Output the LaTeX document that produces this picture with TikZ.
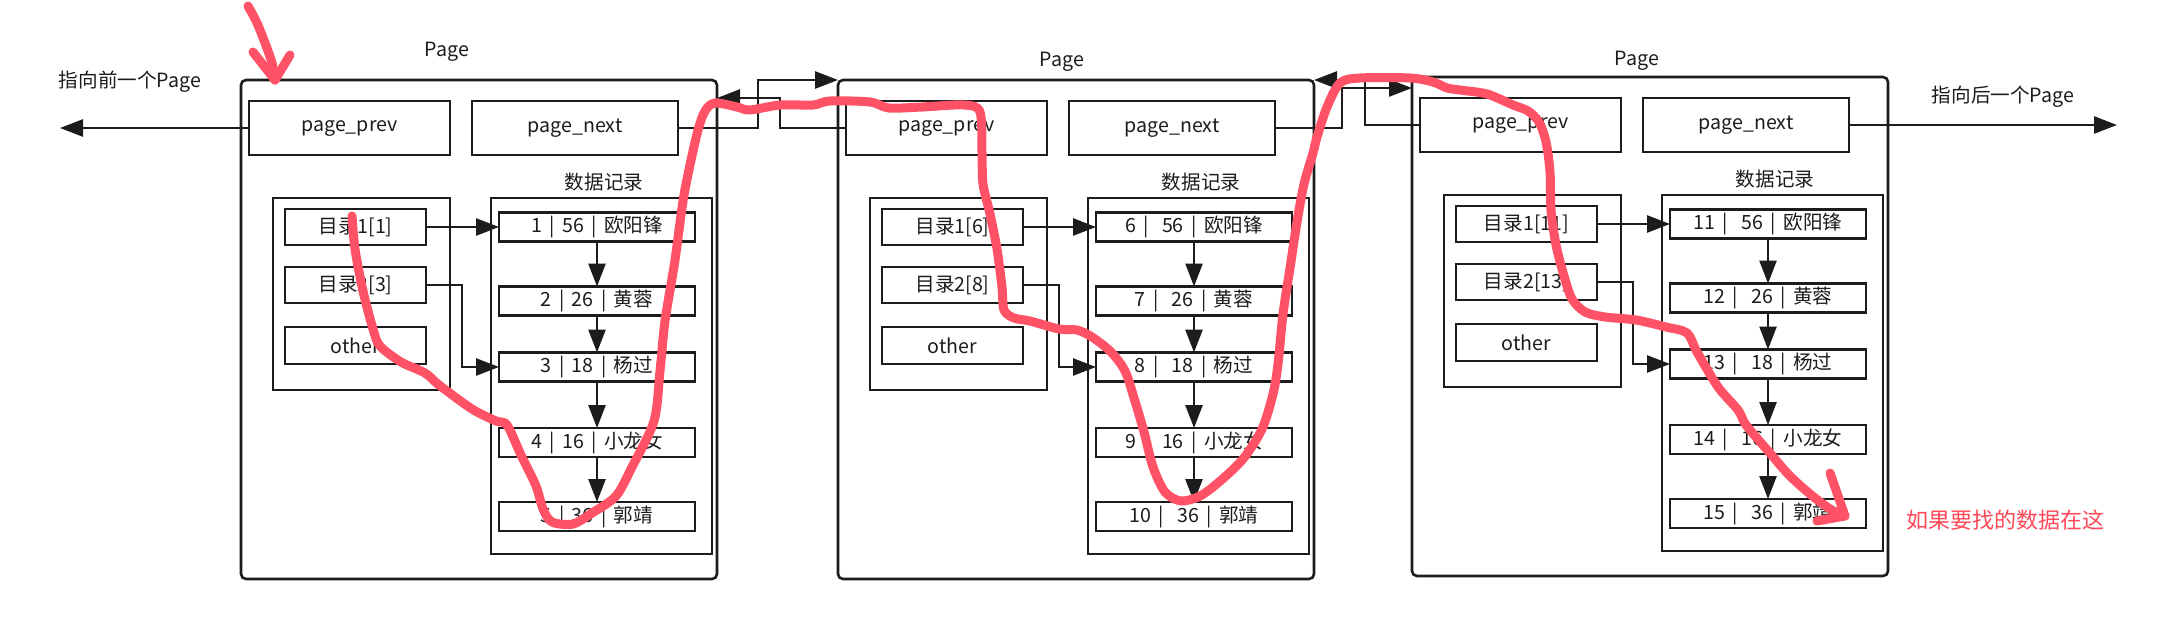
\documentclass[tikz,border=0pt]{standalone}
\usepackage{fontspec}
\newfontfamily\cjk{Noto Sans CJK SC}
\usetikzlibrary{arrows.meta,calc}
\definecolor{mark}{RGB}{255,82,102}
\definecolor{marktext}{RGB}{255,72,88}
\definecolor{ink}{RGB}{28,28,28}
\tikzset{
  every node/.style={font=\cjk\fontsize{9.8}{11}\selectfont, inner sep=0pt, outer sep=0pt, text=ink},
  boxline/.style={draw=ink, line width=1.3pt},
  pagebox/.style={boxline, rounded corners=2.5pt},
  cell/.style={boxline},
  arr/.style={draw=ink, line width=1.3pt, -{Triangle[length=11.5pt,width=8.5pt]}},
  redpen/.style={draw=mark, line width=4.5pt, line cap=round, line join=round},
}
\newcommand{\barsep}{\hspace{0.38em}|\hspace{0.38em}}
\newcommand{\drawpage}[7]{%
\begin{scope}[shift={(#2,#3)}]
  \node[pagebox, minimum width=238pt, minimum height=249.5pt] (#1box) at (238,249.5) {};
  \node[cell, minimum width=100.5pt, minimum height=27pt] (#1prev) at (108.5,48) {page\_prev};
  \node[cell, minimum width=103pt, minimum height=27pt] (#1next) at (334,48) {page\_next};
  \node[cell, minimum width=88.5pt, minimum height=96pt] (#1dir) at (120.5,214) {};
  \node[cell, minimum width=70.5pt, minimum height=18pt] (#1d1) at (114.5,147) {目录1[#5]};
  \node[cell, minimum width=70.5pt, minimum height=18pt] (#1d2) at (114.5,205) {目录2[#6]};
  \node[cell, minimum width=70.5pt, minimum height=18.5pt] (#1oth) at (114.5,265.5) {other};
  \node (#1title) at (363,102) {数据记录};
  \node[cell, minimum width=110.5pt, minimum height=178pt] (#1data) at (360.5,296) {};
  \node[cell, minimum width=98pt, minimum height=14.5pt] (#1r1) at (356,147) {#4\barsep\hspace{#7}56\barsep 欧阳锋};
  \node[cell, minimum width=98pt, minimum height=14.5pt] (#1r2) at (356,221) {\the\numexpr#4+1\relax\barsep\hspace{#7}26\barsep 黄蓉};
  \node[cell, minimum width=98pt, minimum height=14.5pt] (#1r3) at (356,287) {\the\numexpr#4+2\relax\barsep\hspace{#7}18\barsep 杨过};
  \node[cell, minimum width=98pt, minimum height=14.5pt] (#1r4) at (356,362.5) {\the\numexpr#4+3\relax\barsep\hspace{#7}16\barsep 小龙女};
  \node[cell, minimum width=98pt, minimum height=14.5pt] (#1r5) at (356,436.5) {\the\numexpr#4+4\relax\barsep\hspace{#7}36\barsep 郭靖};
  \draw[arr] (#1d1.east) -- (#1r1.west);
  \draw[arr] (#1d2.east) -- ++(36,0) |- (#1r3.west);
  \draw[arr] (#1r1) -- (#1r2);
  \draw[arr] (#1r2) -- (#1r3);
  \draw[arr] (#1r3) -- (#1r4);
  \draw[arr] (#1r4) -- (#1r5);
\end{scope}}

\begin{document}
\begin{tikzpicture}[x=0.5pt,y=-0.5pt]
  \useasboundingbox (0,0) rectangle (2182,642);
  \fill[white] (0,0) rectangle (2182,642);

  \drawpage{pa}{241}{80}{1}{1}{3}{0pt}
  \drawpage{pb}{838}{80}{6}{6}{8}{0.3em}
  \drawpage{pc}{1412}{77}{11}{11}{13}{0.3em}

  \node (la) at (447,52) {Page};
  \node (lb) at (1062,62) {Page};
  \node (lc) at (1637,61) {Page};
  \node (prevtxt) at (130,82) {指向前一个Page};
  \node (nexttxt) at (2003,97) {指向后一个Page};
  \node[text=marktext, font=\cjk\fontsize{11}{13}\selectfont] (found) at (2005,520) {如果要找的数据在这};

  \coordinate (lend) at (60,128);
  \coordinate (rend) at (2117,125);
  \coordinate (j0) at (758,80);
  \coordinate (j1) at (780,98);
  \coordinate (j2) at (1342,88);
  \coordinate (j3) at (1365,80);

  \draw[arr] (paprev.west) -- (lend);
  \draw[arr] (pcnext.east) -- (rend);
  \draw[arr] (panext.east) -| (j0) -- (pbbox.north west);
  \draw[arr] (pbprev.west) -| (j1) -- (j1 -| pabox.east);
  \draw[arr] (pbnext.east) -| (j2) -- (j2 -| pcbox.west);
  \draw[arr] (pcprev.west) -| (j3) -- (j3 -| pbbox.east);

  % red hand-drawn marks
  \draw[redpen] plot[smooth, tension=0.6] coordinates {(248,6) (257,23) (265,43) (272,63) (275,80)};
  \draw[redpen] (253,52) -- (275,80) -- (290,55);

  \draw[redpen] plot[smooth, tension=0.5] coordinates {
    (352,216) (355,249) (363,291) (373,329) (380,346) (401,362) (425,373) (439,385)
    (472,409) (496,421) (507,425) (521,455) (536,486) (543,509) (552,522) (573,524)
    (592,513) (616,496) (632,467) (654,421) (660,371) (665,321) (675,260) (684,195)
    (697,134) (705,111) (715,103) (737,107) (750,110) (780,105) (813,105) (830,101)
    (870,102) (889,108) (922,107) (964,105) (980,112) (982,153) (983,184) (990,214)
    (997,249) (1002,287) (1004,310) (1014,318) (1030,321) (1059,329) (1077,330)
    (1092,337) (1111,352) (1125,371) (1134,398) (1144,432) (1153,467) (1165,492)
    (1181,501) (1200,496) (1219,482) (1243,459) (1262,429) (1273,394) (1278,364)
    (1283,314) (1290,268) (1297,222) (1304,184) (1313,153) (1317,137) (1327,107)
    (1340,83) (1360,78) (1410,78) (1433,82) (1447,88) (1460,90) (1487,94) (1513,105)
    (1528,111) (1539,122) (1546,142) (1550,172) (1551,210) (1556,245) (1564,276)
    (1572,299) (1585,312) (1605,317) (1636,320) (1666,327) (1687,333) (1697,352)
    (1718,387) (1738,410) (1746,425) (1769,452) (1789,475) (1810,494) (1830,509)
    (1845,516)};
  \draw[redpen] (1830,473) -- (1845,516) -- (1817,521);
\end{tikzpicture}
\end{document}
